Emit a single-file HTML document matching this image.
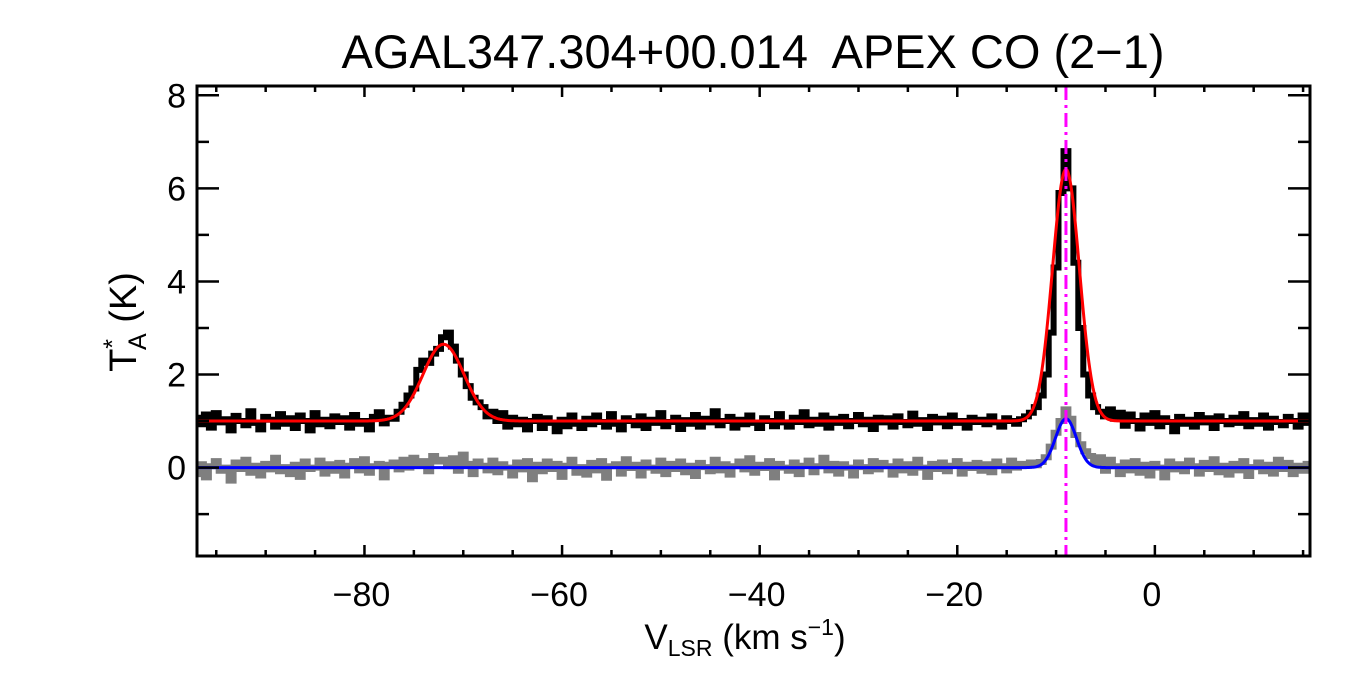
<!DOCTYPE html>
<html><head><meta charset="utf-8"><style>
html,body{margin:0;padding:0;background:#fff}
svg{display:block}
text{font-family:"Liberation Sans",sans-serif;fill:#000}
</style></head><body>
<svg id="chart" width="1350" height="675" viewBox="0 0 1350 675">
<text x="753" y="68" font-size="47" text-anchor="middle">AGAL347.304+00.014&#160; APEX CO (2−1)</text>
<g id="plot"></g>
<text x="745" y="649" font-size="35" text-anchor="middle">V<tspan font-size="23" dy="7">LSR</tspan><tspan dy="-7"> (km s</tspan><tspan font-size="23" dy="-14">−1</tspan><tspan dy="14">)</tspan></text>
<text transform="translate(136,322) rotate(-90)" font-size="38" text-anchor="middle">T<tspan font-size="25" dy="-15">*</tspan><tspan font-size="25" dx="-11" dy="25">A</tspan><tspan dy="-10"> (K)</tspan></text>
</svg>
<script>
const vStart = -97, vStep = 0.5;
const blackSpec = [
1.07,0.93,1.14,0.86,1.17,0.97,1.04,0.80,1.11,1.00,
0.91,1.21,0.96,0.82,1.09,1.03,0.88,1.15,0.94,1.06,
0.85,1.12,1.00,0.80,1.17,0.93,1.03,0.89,1.10,0.98,
1.06,0.86,1.13,0.94,1.00,0.82,1.09,1.19,0.95,1.07,
1.05,1.20,1.35,1.55,1.70,2.10,2.30,2.25,2.45,2.55,
2.80,2.90,2.60,2.30,2.00,1.75,1.50,1.40,1.30,1.10,
1.20,1.00,1.17,0.88,1.07,0.93,1.03,0.82,1.00,1.09,
0.85,1.06,0.96,0.78,1.03,0.89,1.12,0.94,0.85,1.05,
0.93,1.12,0.98,0.88,1.15,0.94,0.82,1.06,1.00,0.91,
1.10,0.85,1.03,0.96,1.17,0.89,0.98,1.07,0.83,1.02,
0.94,1.13,0.88,1.05,0.97,1.21,0.91,1.00,1.09,0.86,
1.03,0.93,1.12,0.96,0.85,1.06,1.00,0.89,1.15,0.97,
0.88,1.07,0.98,1.19,0.91,1.03,0.94,1.12,0.86,1.05,
0.96,1.09,0.89,1.00,1.13,0.93,1.03,0.83,1.07,0.97,
1.06,0.88,1.10,0.98,0.91,1.16,0.94,1.02,0.85,1.09,
0.97,1.05,0.89,1.12,0.96,1.00,0.86,1.07,0.98,1.03,
0.93,1.10,0.97,0.88,1.06,1.00,0.94,1.04,1.10,1.18,
1.30,1.55,2.00,2.90,4.30,5.90,6.80,6.00,4.40,3.00,
2.00,1.55,1.30,1.20,1.10,1.25,1.05,1.18,0.90,1.14,
1.00,0.84,1.12,0.96,1.17,0.89,1.06,0.98,0.78,1.09,
0.94,1.03,0.88,1.13,0.97,1.06,0.85,1.10,1.00,0.93,
1.07,0.96,1.15,0.89,1.02,0.94,1.12,0.86,1.05,0.98,
0.91,1.09,1.00,0.88,1.12,0.96];
const graySpec = [
-0.14,0.07,-0.21,0.03,0.14,-0.07,0.00,-0.28,0.11,-0.03,
0.17,-0.11,0.04,-0.17,0.08,-0.04,0.21,-0.08,0.01,-0.14,
0.06,-0.20,0.13,-0.03,0.00,0.15,-0.13,0.07,-0.07,0.10,
-0.17,0.04,0.14,-0.06,0.18,-0.11,0.03,0.08,-0.21,0.06,
0.11,-0.04,0.17,0.00,0.21,0.07,0.14,-0.08,0.25,0.13,
0.17,0.03,0.20,-0.07,0.28,0.08,-0.14,0.13,0.04,-0.06,
0.15,-0.10,0.07,0.00,-0.17,0.11,-0.04,0.14,-0.25,0.06,
-0.08,0.13,-0.03,0.08,-0.20,0.04,0.17,-0.11,0.01,-0.15,
0.10,-0.06,0.14,-0.22,0.03,0.07,-0.13,0.18,-0.01,0.06,
-0.17,0.11,0.00,-0.07,0.15,-0.14,0.08,-0.03,0.13,-0.10,
0.04,-0.18,0.10,0.01,-0.08,0.17,-0.06,0.07,-0.15,0.03,
0.13,-0.04,0.20,-0.11,0.06,-0.01,0.14,-0.21,0.08,0.00,
-0.07,0.11,-0.14,0.04,0.15,-0.10,0.03,0.21,-0.06,0.08,
-0.13,0.07,0.00,-0.17,0.11,0.01,-0.08,0.14,-0.04,0.10,
0.03,-0.15,0.13,-0.06,0.07,-0.11,0.17,0.00,-0.20,0.08,
-0.03,0.11,-0.08,0.04,0.14,-0.13,0.06,-0.01,0.10,-0.07,
0.07,-0.10,0.13,0.03,-0.06,0.15,0.00,0.08,0.04,0.11,
0.05,0.12,0.22,0.45,0.75,1.00,1.25,1.05,0.70,0.50,
0.35,0.25,0.10,0.22,-0.07,0.17,0.03,-0.14,0.11,-0.06,
0.14,-0.11,0.06,-0.17,0.08,0.00,-0.21,0.13,-0.04,0.07,
-0.08,0.15,0.03,-0.13,0.10,-0.03,0.18,-0.10,0.04,-0.15,
0.08,-0.06,0.14,-0.18,0.01,0.11,-0.08,0.06,-0.13,0.17,
-0.03,0.10,-0.14,0.04,-0.07,0.08];
const redBaseline = 1.0;
const redCenters = [-72, -9];
const redAmps = [1.65, 5.41];
const redSigmas = [2.08, 1.36];
const blueBaseline = 0.0;
const blueCenters = [-9];
const blueAmps = [1.05];
const blueSigmas = [1.06];
const markerVel = -9.0;
const xTicks = [-80, -60, -40, -20, 0];
const xTickLabels = ["−80", "−60", "−40", "−20", "0"];
const yTicks = [0, 2, 4, 6, 8];
const yTickLabels = ["0", "2", "4", "6", "8"];

const NS = "http://www.w3.org/2000/svg";
const L = 197, R = 1310, T = 86, B = 556;
const xMin = -96.95, xMax = 15.7, yMin = -1.9, yMax = 8.2;
const X = v => L + (v - xMin) / (xMax - xMin) * (R - L);
const Y = t => B - (t - yMin) / (yMax - yMin) * (B - T);
const plot = document.getElementById('plot');
function mk(tag, attrs) { const e = document.createElementNS(NS, tag); for (const k in attrs) e.setAttribute(k, attrs[k]); plot.appendChild(e); return e; }

const defs = mk('defs', {});
const cp = document.createElementNS(NS, 'clipPath'); cp.setAttribute('id', 'clip');
const cr = document.createElementNS(NS, 'rect'); cr.setAttribute('x', L); cr.setAttribute('y', T); cr.setAttribute('width', R - L); cr.setAttribute('height', B - T);
cp.appendChild(cr); defs.appendChild(cp);

function stepPath(arr) {
  let d = '';
  arr.forEach((t, i) => {
    const v0 = vStart + vStep * (i - 0.5), v1 = vStart + vStep * (i + 0.5);
    d += (i === 0 ? 'M' : 'L') + X(v0).toFixed(1) + ',' + Y(t).toFixed(1) + 'L' + X(v1).toFixed(1) + ',' + Y(t).toFixed(1);
  });
  return d;
}
function fitPath(base, cs, as, ss) {
  let d = '';
  for (let px = L; px <= R; px += 1) {
    const v = xMin + (px - L) / (R - L) * (xMax - xMin);
    let t = base;
    for (let k = 0; k < cs.length; k++) t += as[k] * Math.exp(-0.5 * ((v - cs[k]) / ss[k]) ** 2);
    d += (px === L ? 'M' : 'L') + px + ',' + Y(t).toFixed(1);
  }
  return d;
}
const g = mk('g', { 'clip-path': 'url(#clip)' });
function add(tag, attrs) { const e = document.createElementNS(NS, tag); for (const k in attrs) e.setAttribute(k, attrs[k]); g.appendChild(e); return e; }

const gs = add('path', { d: stepPath(graySpec), fill: 'none', stroke: '#7f7f7f', 'stroke-width': 6 });


const bs = add('path', { d: stepPath(blackSpec), fill: 'none', stroke: '#000', 'stroke-width': 6 });


const rf = add('path', { d: fitPath(redBaseline, redCenters, redAmps, redSigmas), fill: 'none', stroke: '#ff0000', 'stroke-width': 3 });


const bf = add('path', { d: fitPath(blueBaseline, blueCenters, blueAmps, blueSigmas), fill: 'none', stroke: '#0000ff', 'stroke-width': 3 });


const mv = add('line', { x1: X(markerVel), x2: X(markerVel), y1: T, y2: B, stroke: '#ff00ff', 'stroke-width': 3, 'stroke-dasharray': '14,5,3,5' });



const frame = mk('rect', { x: L, y: T, width: R - L, height: B - T, fill: 'none', stroke: '#000', 'stroke-width': 3 });



let td = '';
for (let v = -95; v <= 15; v += 5) {
  const x = X(v), len = (v % 20 === 0) ? 11 : 6;
  td += `M${x},${B}V${B - len}M${x},${T}V${T + len}`;
}
for (let t = -1; t <= 8; t += 1) {
  const y = Y(t), len = (t % 2 === 0) ? 22 : 12;
  td += `M${L},${y}H${L + len}M${R},${y}H${R - len}`;
}
const ticks = mk('path', { d: td, stroke: '#000', 'stroke-width': 2.5, fill: 'none' });



xTicks.forEach((v, i) => {
  const t = mk('text', { x: X(v) - 3, y: 606, 'font-size': 34, 'text-anchor': 'middle' });
  t.textContent = xTickLabels[i];
  
  
});
yTicks.forEach((v, i) => {
  const t = mk('text', { x: 186, y: Y(v) + 12, 'font-size': 34, 'text-anchor': 'end' });
  t.textContent = yTickLabels[i];
  
  
});
</script>
</body></html>
